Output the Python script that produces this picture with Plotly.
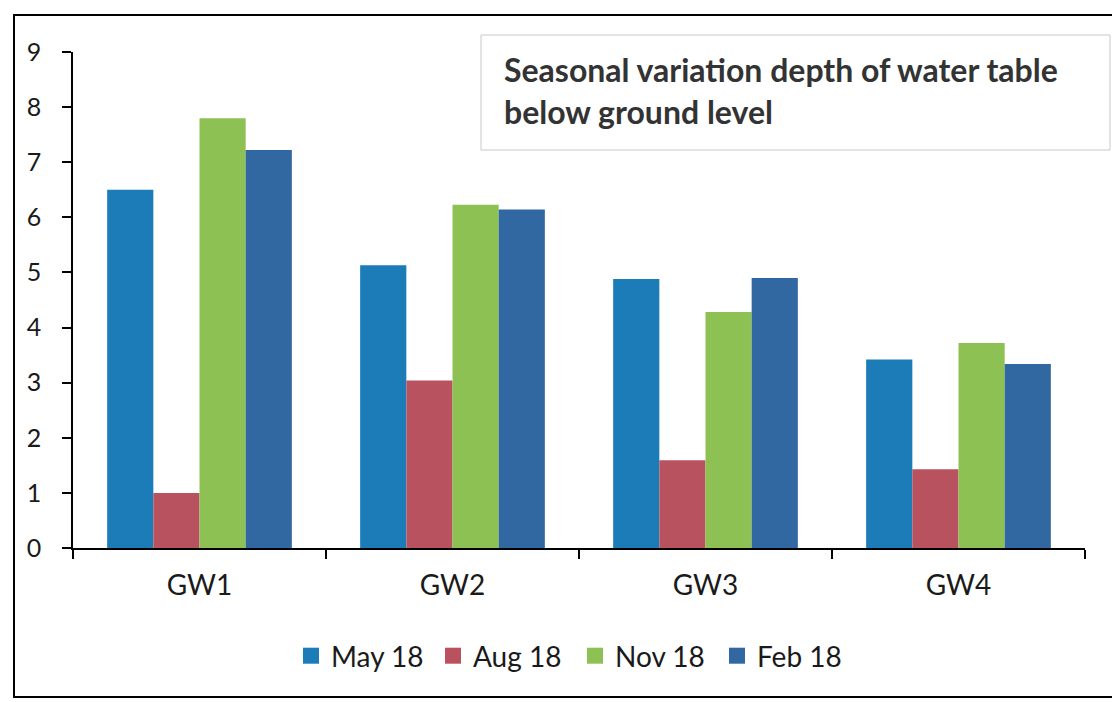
import plotly.graph_objects as go

categories = ["GW1", "GW2", "GW3", "GW4"]
series_names = ["May 18", "Aug 18", "Nov 18", "Feb 18"]
may_18 = [6.5, 5.13, 4.88, 3.42]
aug_18 = [1.0, 3.04, 1.59, 1.43]
nov_18 = [7.8, 6.23, 4.28, 3.72]
feb_18 = [7.22, 6.14, 4.9, 3.34]
colors = ["#1b7cb8", "#b9525f", "#8dc153", "#3168a2"]
yticks = [0, 1, 2, 3, 4, 5, 6, 7, 8, 9]

FONT = "Lato"
W, H = 1112, 702
L, R, T, B = 73, 27, 52, 154
pw, ph = W - L - R, H - T - B

def px(x):
    return (x - L) / pw

def py(y):
    return (H - B - y) / ph

fig = go.Figure()
for name, vals, c in zip(series_names, [may_18, aug_18, nov_18, feb_18], colors):
    fig.add_trace(go.Bar(name=name, x=categories, y=vals, showlegend=False,
                         marker=dict(color=c, line=dict(width=0))))
# legend entries with larger square swatches
for name, c in zip(series_names, colors):
    fig.add_trace(go.Scatter(name=name, x=[None], y=[None], mode="markers",
                             marker=dict(symbol="square", size=18, color=c), showlegend=True))

fig.update_layout(
    width=W, height=H,
    margin=dict(l=L, r=R, t=T, b=B, pad=0),
    paper_bgcolor="white", plot_bgcolor="white",
    barmode="group", bargap=0.27, bargroupgap=0,
    font=dict(family=FONT, size=24, color="#1a1a1a"),
    showlegend=True,
    legend=dict(orientation="h", x=px(575), xanchor="center", y=py(656), yanchor="middle",
                font=dict(size=28, family=FONT, color="#1a1a1a"), itemwidth=30,
                entrywidth=97, entrywidthmode="pixels",
                traceorder="normal", bgcolor="rgba(0,0,0,0)"),
    xaxis=dict(showline=True, linecolor="black", linewidth=1.5, ticks="outside",
               tickson="boundaries", ticklen=9, tickcolor="black", tickwidth=1.5,
               showgrid=False, tickfont=dict(size=28, family=FONT), zeroline=False,
               automargin=False),
    yaxis=dict(range=[0, 9], tickvals=yticks, showline=True, linecolor="black", linewidth=1.5,
               ticks="outside", ticklen=9, tickcolor="black", tickwidth=1.5,
               showgrid=False, zeroline=False, tickfont=dict(size=25, family=FONT),
               automargin=False),
    shapes=[
        dict(type="rect", xref="paper", yref="paper", x0=px(14), x1=px(1118), y0=py(697), y1=py(15),
             line=dict(color="black", width=2), fillcolor="rgba(0,0,0,0)", layer="below"),
        dict(type="rect", xref="paper", yref="paper", x0=px(481), x1=px(1110), y0=py(150), y1=py(35),
             line=dict(color="#c8c8c8", width=1), fillcolor="rgba(0,0,0,0)", layer="below"),
    ],
    annotations=[
        dict(xref="paper", yref="paper", x=px(502), y=py(48), xanchor="left", yanchor="top",
             text="<b>Seasonal variation depth of water table<br>below ground level</b>",
             showarrow=False, align="left",
             font=dict(size=32, family=FONT, color="#333333")),
    ],
)
fig.update_xaxes(ticklabelstandoff=12)
fig.update_yaxes(ticklabelstandoff=16)

fig.write_html("out.html", config={"displayModeBar": False},
               post_script="document.body.style.margin='0';")
